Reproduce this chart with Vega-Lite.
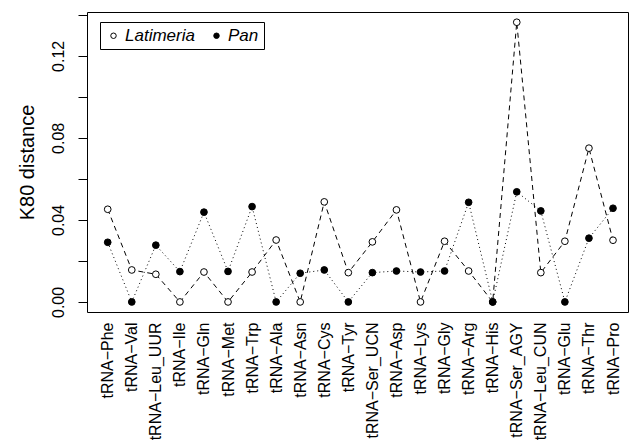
{
  "$schema": "https://vega.github.io/schema/vega-lite/v6.json",
  "width": 541,
  "height": 300,
  "autosize": "none",
  "padding": {"left": 87, "top": 12, "right": 10, "bottom": 132},
  "background": "white",
  "config": {
    "view": {"stroke": "black", "strokeWidth": 1},
    "font": "Liberation Sans"
  },
  "data": {
    "values": [
      {"trna": "tRNA−Phe", "species": "Latimeria", "k80": 0.0452},
      {"trna": "tRNA−Val", "species": "Latimeria", "k80": 0.0156},
      {"trna": "tRNA−Leu_UUR", "species": "Latimeria", "k80": 0.0135},
      {"trna": "tRNA−Ile", "species": "Latimeria", "k80": 0.0},
      {"trna": "tRNA−Gln", "species": "Latimeria", "k80": 0.0146},
      {"trna": "tRNA−Met", "species": "Latimeria", "k80": 0.0},
      {"trna": "tRNA−Trp", "species": "Latimeria", "k80": 0.0146},
      {"trna": "tRNA−Ala", "species": "Latimeria", "k80": 0.0302},
      {"trna": "tRNA−Asn", "species": "Latimeria", "k80": 0.0},
      {"trna": "tRNA−Cys", "species": "Latimeria", "k80": 0.0488},
      {"trna": "tRNA−Tyr", "species": "Latimeria", "k80": 0.0143},
      {"trna": "tRNA−Ser_UCN", "species": "Latimeria", "k80": 0.0293},
      {"trna": "tRNA−Asp", "species": "Latimeria", "k80": 0.0449},
      {"trna": "tRNA−Lys", "species": "Latimeria", "k80": 0.0},
      {"trna": "tRNA−Gly", "species": "Latimeria", "k80": 0.0296},
      {"trna": "tRNA−Arg", "species": "Latimeria", "k80": 0.0151},
      {"trna": "tRNA−His", "species": "Latimeria", "k80": 0.0},
      {"trna": "tRNA−Ser_AGY", "species": "Latimeria", "k80": 0.1364},
      {"trna": "tRNA−Leu_CUN", "species": "Latimeria", "k80": 0.0143},
      {"trna": "tRNA−Glu", "species": "Latimeria", "k80": 0.0296},
      {"trna": "tRNA−Thr", "species": "Latimeria", "k80": 0.0750},
      {"trna": "tRNA−Pro", "species": "Latimeria", "k80": 0.0301},
      {"trna": "tRNA−Phe", "species": "Pan", "k80": 0.0291},
      {"trna": "tRNA−Val", "species": "Pan", "k80": 0.0},
      {"trna": "tRNA−Leu_UUR", "species": "Pan", "k80": 0.0277},
      {"trna": "tRNA−Ile", "species": "Pan", "k80": 0.0148},
      {"trna": "tRNA−Gln", "species": "Pan", "k80": 0.0438},
      {"trna": "tRNA−Met", "species": "Pan", "k80": 0.0149},
      {"trna": "tRNA−Trp", "species": "Pan", "k80": 0.0465},
      {"trna": "tRNA−Ala", "species": "Pan", "k80": 0.0},
      {"trna": "tRNA−Asn", "species": "Pan", "k80": 0.0140},
      {"trna": "tRNA−Cys", "species": "Pan", "k80": 0.0156},
      {"trna": "tRNA−Tyr", "species": "Pan", "k80": 0.0},
      {"trna": "tRNA−Ser_UCN", "species": "Pan", "k80": 0.0143},
      {"trna": "tRNA−Asp", "species": "Pan", "k80": 0.0151},
      {"trna": "tRNA−Lys", "species": "Pan", "k80": 0.0146},
      {"trna": "tRNA−Gly", "species": "Pan", "k80": 0.0151},
      {"trna": "tRNA−Arg", "species": "Pan", "k80": 0.0486},
      {"trna": "tRNA−His", "species": "Pan", "k80": 0.0},
      {"trna": "tRNA−Ser_AGY", "species": "Pan", "k80": 0.0537},
      {"trna": "tRNA−Leu_CUN", "species": "Pan", "k80": 0.0444},
      {"trna": "tRNA−Glu", "species": "Pan", "k80": 0.0},
      {"trna": "tRNA−Thr", "species": "Pan", "k80": 0.0311},
      {"trna": "tRNA−Pro", "species": "Pan", "k80": 0.0457}
    ]
  },
  "encoding": {
    "x": {
      "field": "trna",
      "type": "nominal",
      "sort": null,
      "scale": {"type": "point", "padding": 0.742, "align": 0.58},
      "axis": {
        "title": null,
        "domain": false,
        "ticks": false,
        "labelAngle": -90,
        "labelAlign": "right",
        "labelBaseline": "middle",
        "labelPadding": 10,
        "labelFontSize": 16,
        "labelColor": "black",
        "labelFont": "Liberation Sans",
        "labelOverlap": false,
        "labelLimit": 0
      }
    },
    "y": {
      "field": "k80",
      "type": "quantitative",
      "scale": {"domain": [-0.0049, 0.1414], "nice": false, "zero": false},
      "axis": {
        "title": "K80 distance",
        "titleFontSize": 20,
        "titleFontWeight": "normal",
        "titleColor": "black",
        "titleFont": "Liberation Sans",
        "titlePadding": 13,
        "values": [0, 0.02, 0.04, 0.06, 0.08, 0.1, 0.12, 0.14],
        "format": ".2f",
        "labelExpr": "abs(datum.value / 0.04 - round(datum.value / 0.04)) < 0.01 ? datum.label : ''",
        "labelAngle": -90,
        "labelAlign": "center",
        "labelBaseline": "bottom",
        "labelFontSize": 16,
        "labelColor": "black",
        "labelFont": "Liberation Sans",
        "labelPadding": 12,
        "tickSize": 9,
        "tickColor": "black",
        "domain": false,
        "grid": false
      }
    }
  },
  "layer": [
    {
      "transform": [{"filter": "datum.species === 'Latimeria'"}],
      "mark": {"type": "line", "color": "black", "strokeWidth": 1, "strokeDash": [5, 4]},
      "encoding": {}
    },
    {
      "transform": [{"filter": "datum.species === 'Pan'"}],
      "mark": {"type": "line", "color": "black", "strokeWidth": 1, "strokeDash": [1, 3]},
      "encoding": {}
    },
    {
      "mark": {"type": "point", "shape": "circle", "filled": true, "stroke": "black", "strokeWidth": 1, "size": 45, "opacity": 1},
      "encoding": {
        "fill": {
          "field": "species",
          "type": "nominal",
          "scale": {"domain": ["Latimeria", "Pan"], "range": ["white", "black"]},
          "legend": {
            "title": null,
            "orient": "none",
            "legendX": 13,
            "legendY": 10,
            "direction": "horizontal",
            "strokeColor": "black",
            "padding": 5,
            "symbolSize": 30,
            "symbolType": "circle",
            "symbolStrokeColor": "black",
            "symbolStrokeWidth": 1,
            "labelFontSize": 17,
            "labelFontStyle": "italic",
            "labelFont": "Liberation Sans",
            "labelColor": "black",
            "labelOffset": 3,
            "columnPadding": 13
          }
        }
      }
    }
  ]
}
